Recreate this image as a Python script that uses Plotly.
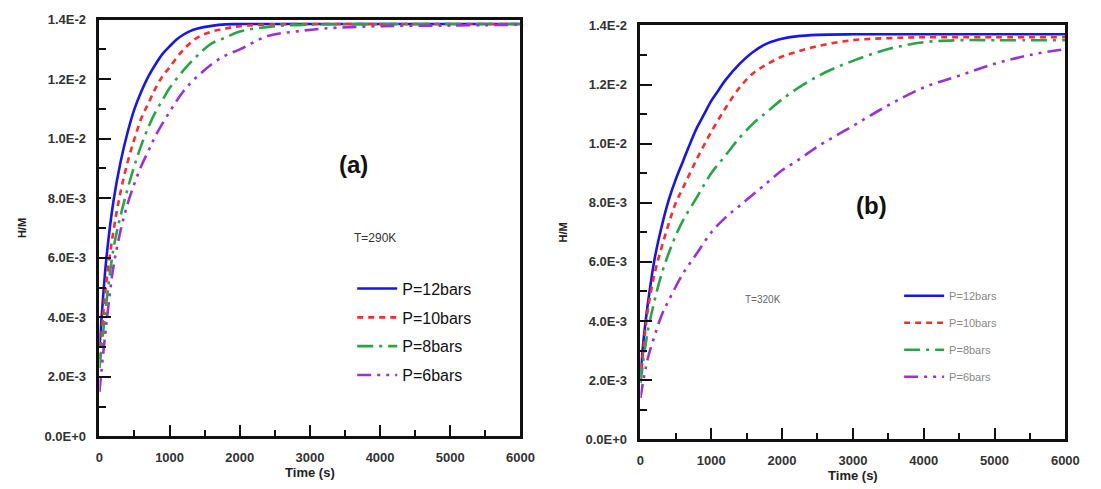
import plotly.graph_objects as go

# ---------------- data ----------------
# Panel (a): T = 290 K
t_a_12 = [0, 50, 100, 200, 300, 400, 500, 600, 700, 800, 900, 1000, 1100, 1200, 1300, 1400, 1600, 1800, 2000, 3000, 4000, 5000, 6000]
h_a_12 = [0.0030, 0.0046, 0.0060, 0.0079, 0.0092, 0.0102, 0.0110, 0.0116, 0.0121, 0.0125, 0.01285, 0.0131, 0.01333, 0.0135, 0.01362, 0.0137, 0.01379, 0.01384, 0.01385, 0.01385, 0.01385, 0.01385, 0.01385]

t_a_10 = [0, 50, 100, 200, 300, 400, 500, 600, 700, 800, 900, 1000, 1200, 1400, 1600, 1800, 2000, 2500, 3000, 4000, 5000, 6000]
h_a_10 = [0.0026, 0.0040, 0.0052, 0.0069, 0.0082, 0.0092, 0.0100, 0.0107, 0.0112, 0.0117, 0.0121, 0.0124, 0.0130, 0.0134, 0.0136, 0.0137, 0.01378, 0.01384, 0.01385, 0.01385, 0.01385, 0.01385]

t_a_8 = [0, 100, 200, 300, 400, 500, 600, 700, 800, 900, 1000, 1200, 1400, 1600, 1800, 2000, 2500, 3000, 4000, 5000, 6000]
h_a_8 = [0.0023, 0.0045, 0.0063, 0.0074, 0.0083, 0.0091, 0.0098, 0.0104, 0.0109, 0.0113, 0.0117, 0.0123, 0.0128, 0.0132, 0.0134, 0.0136, 0.01378, 0.01383, 0.01385, 0.01385, 0.01385]

t_a_6 = [0, 100, 200, 300, 400, 500, 600, 700, 800, 1000, 1200, 1400, 1600, 1800, 2000, 2400, 2800, 3200, 4000, 5000, 6000]
h_a_6 = [0.0015, 0.0038, 0.0057, 0.0069, 0.0078, 0.0085, 0.0091, 0.0096, 0.0101, 0.0109, 0.0116, 0.0121, 0.0125, 0.0128, 0.0130, 0.01345, 0.0136, 0.0137, 0.01378, 0.0138, 0.01383]

# Panel (b): T = 320 K
t_b_12 = [0, 50, 100, 200, 300, 400, 500, 600, 700, 800, 900, 1000, 1100, 1200, 1400, 1600, 1800, 2000, 2200, 2500, 3000, 4000, 5000, 6000]
h_b_12 = [0.0022, 0.0035, 0.0045, 0.0061, 0.0072, 0.0081, 0.0088, 0.0094, 0.0100, 0.01055, 0.0110, 0.01145, 0.0118, 0.01215, 0.0127, 0.01312, 0.0134, 0.01355, 0.01363, 0.01368, 0.0137, 0.0137, 0.0137, 0.0137]

t_b_10 = [0, 100, 200, 300, 400, 500, 600, 800, 1000, 1200, 1400, 1600, 1800, 2000, 2200, 2500, 3000, 3500, 4000, 5000, 6000]
h_b_10 = [0.0020, 0.0043, 0.0056, 0.0065, 0.0073, 0.0080, 0.0085, 0.0095, 0.0104, 0.0112, 0.0119, 0.0124, 0.0127, 0.01295, 0.0131, 0.0133, 0.0135, 0.01357, 0.0136, 0.0136, 0.0136]

t_b_8 = [0, 100, 200, 300, 400, 500, 600, 800, 1000, 1200, 1400, 1600, 1800, 2000, 2300, 2600, 3000, 3500, 4000, 4500, 5000, 6000]
h_b_8 = [0.0019, 0.0036, 0.0047, 0.0056, 0.0063, 0.0069, 0.0074, 0.0082, 0.0090, 0.0096, 0.0102, 0.0107, 0.0111, 0.0115, 0.0120, 0.0124, 0.0128, 0.0132, 0.01343, 0.0135, 0.0135, 0.0135]

t_b_6 = [0, 100, 200, 300, 400, 600, 800, 1000, 1200, 1400, 1600, 1800, 2000, 2200, 2500, 3000, 3500, 4000, 4500, 5000, 5500, 6000]
h_b_6 = [0.0014, 0.0027, 0.0035, 0.0042, 0.0047, 0.0056, 0.0063, 0.0070, 0.0075, 0.0079, 0.0083, 0.0087, 0.0091, 0.0094, 0.0099, 0.0106, 0.0113, 0.0119, 0.0123, 0.0127, 0.0130, 0.0132]

series_names = ["P=12bars", "P=10bars", "P=8bars", "P=6bars"]
colors = ["#1515f5", "#ff2a2a", "#27a645", "#9b30e0"]
dashes = ["solid", "6px,5px", "16px,6px,3px,6px", "14px,6px,3px,6px,3px,6px"]

x_ticks = [0, 1000, 2000, 3000, 4000, 5000, 6000]
x_ticktext = ["0", "1000", "2000", "3000", "4000", "5000", "6000"]
y_ticks = [0, 0.002, 0.004, 0.006, 0.008, 0.010, 0.012, 0.014]
y_ticktext = ["0.0E+0", "2.0E-3", "4.0E-3", "6.0E-3", "8.0E-3", "1.0E-2", "1.2E-2", "1.4E-2"]

panel_a = [(t_a_12, h_a_12), (t_a_10, h_a_10), (t_a_8, h_a_8), (t_a_6, h_a_6)]
panel_b = [(t_b_12, h_b_12), (t_b_10, h_b_10), (t_b_8, h_b_8), (t_b_6, h_b_6)]

FONT = "Liberation Sans, Arial, sans-serif"
W, H = 1101, 489

fig = go.Figure()
for i, (t, h) in enumerate(panel_a):
    fig.add_trace(go.Scatter(
        x=t, y=h, mode="lines", name=series_names[i], xaxis="x", yaxis="y",
        line=dict(color=colors[i], width=2.6, dash=dashes[i], shape="spline", smoothing=1.0),
        legend="legend", legendgroup="a%d" % i))
for i, (t, h) in enumerate(panel_b):
    fig.add_trace(go.Scatter(
        x=t, y=h, mode="lines", name=series_names[i], xaxis="x2", yaxis="y2",
        line=dict(color=colors[i], width=2.6, dash=dashes[i], shape="spline", smoothing=1.0),
        legend="legend2", legendgroup="b%d" % i))

def xax(domain, anchor):
    return dict(
        domain=domain, anchor=anchor, range=[0, 6000],
        tickvals=x_ticks, ticktext=x_ticktext,
        ticks="inside", ticklen=12, tickwidth=2, tickcolor="#111",
        minor=dict(ticks="inside", ticklen=7, tickwidth=2, tickcolor="#111", dtick=500),
        showline=True, linewidth=2.5, linecolor="#111", mirror=True,
        showgrid=False, zeroline=False,
        tickfont=dict(family=FONT, size=13, color="#333", weight="bold"),
        ticklabelstandoff=7,
        title=dict(text="Time (s)", font=dict(family=FONT, size=13, color="#222", weight="bold"), standoff=5),
    )

def yax(domain, anchor):
    return dict(
        domain=domain, anchor=anchor, range=[0, 0.014],
        tickvals=y_ticks, ticktext=y_ticktext,
        ticks="inside", ticklen=12, tickwidth=2, tickcolor="#111",
        minor=dict(ticks="inside", ticklen=7, tickwidth=2, tickcolor="#111", dtick=0.001),
        showline=True, linewidth=2.5, linecolor="#111", mirror=True,
        showgrid=False, zeroline=False,
        tickfont=dict(family=FONT, size=13, color="#333", weight="bold"),
        ticklabelstandoff=8,
        title=dict(text="H/M", font=dict(family=FONT, size=11, color="#222", weight="bold"), standoff=16),
    )

fig.update_layout(
    width=W, height=H, margin=dict(l=0, r=0, t=0, b=0),
    paper_bgcolor="white", plot_bgcolor="white",
    xaxis=xax([97 / W, 525 / W], "y"),
    yaxis=yax([1 - 443 / H, 1 - 13 / H], "x"),
    xaxis2=xax([647 / W, 1079 / W], "y2"),
    yaxis2=yax([1 - 446 / H, 1 - 19 / H], "x2"),
    legend=dict(x=354 / W, y=1 - 273 / H, xanchor="left", yanchor="top",
                font=dict(family=FONT, size=16, color="#111"),
                bgcolor="rgba(0,0,0,0)", tracegroupgap=5, itemwidth=40),
    legend2=dict(x=910 / W, y=1 - 283 / H, xanchor="left", yanchor="top",
                 font=dict(family=FONT, size=11, color="#888"),
                 bgcolor="rgba(0,0,0,0)", tracegroupgap=8, itemwidth=40),
    annotations=[
        dict(text="(a)", x=355 / W, y=1 - 163 / H, xref="paper", yref="paper", showarrow=False,
             xanchor="center", yanchor="middle",
             font=dict(family=FONT, size=24, color="#111", weight="bold")),
        dict(text="T=290K", x=377 / W, y=1 - 238 / H, xref="paper", yref="paper", showarrow=False,
             xanchor="center", yanchor="middle",
             font=dict(family=FONT, size=12, color="#333")),
        dict(text="(b)", x=882 / W, y=1 - 205 / H, xref="paper", yref="paper", showarrow=False,
             xanchor="center", yanchor="middle",
             font=dict(family=FONT, size=24, color="#111", weight="bold")),
        dict(text="T=320K", x=772 / W, y=1 - 302 / H, xref="paper", yref="paper", showarrow=False,
             xanchor="center", yanchor="middle",
             font=dict(family=FONT, size=10, color="#666")),
    ],
)

fig.write_html("out.html")
